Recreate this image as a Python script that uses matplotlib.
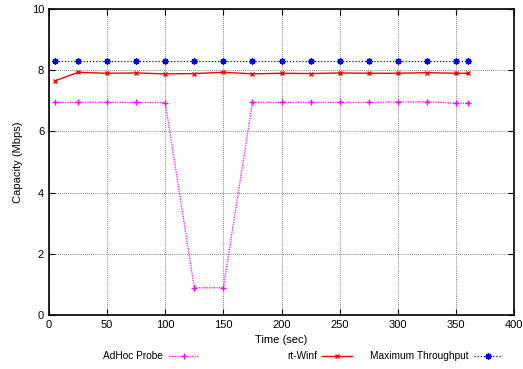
import numpy as np
import matplotlib
matplotlib.use('Agg')
import matplotlib.pyplot as plt
from matplotlib.lines import Line2D

plt.rcParams['font.family'] = ['Liberation Sans', 'DejaVu Sans']

tiempo = np.array([5, 25, 50, 75, 100, 125, 150, 175, 200, 225, 250, 275, 300, 325, 350, 360])
adhoc = np.array([6.95, 6.95, 6.95, 6.95, 6.94, 0.89, 0.89, 6.95, 6.95, 6.95, 6.95, 6.95, 6.96, 6.97, 6.92, 6.92])
rtwinf = np.array([7.65, 7.93, 7.90, 7.91, 7.88, 7.89, 7.93, 7.88, 7.90, 7.89, 7.91, 7.90, 7.90, 7.92, 7.90, 7.90])
maximo = np.array([8.3] * 16)

W, H = 523, 369
fig = plt.figure(figsize=(W / 100, H / 100), dpi=100)
ax = fig.add_axes([49 / W, 54 / H, 465 / W, 306 / H])

estilos = [
    dict(color='#ff00ff', linestyle=(0, (1, 1)), linewidth=0.9, marker='+', markersize=4.5, markeredgewidth=1.0),
    dict(color='#ff0000', linestyle='-', linewidth=1.0, marker='x', markersize=3.5, markeredgewidth=1.0),
    dict(color='#0000ff', linestyle=(0, (1, 1.5)), linewidth=0.9, marker=(8, 2, 0), markersize=4.5, markeredgewidth=1.0),
]
series = [adhoc, rtwinf, maximo]
nombres = ['AdHoc Probe', 'rt-Winf', 'Maximum Throughput']

for y, st in zip(series, estilos):
    ax.plot(tiempo, y, **st)

ax.set_xlim(0, 400)
ax.set_ylim(0, 10)
ax.set_xticks(np.arange(0, 401, 50))
ax.set_yticks(np.arange(0, 11, 2))
ax.grid(True, color='#555555', linestyle=(0, (1, 1.5)), linewidth=0.6)
ax.tick_params(direction='in', labelsize=8, length=4, top=True, right=True, labeltop=False, labelright=False)
for s in ax.spines.values():
    s.set_linewidth(1.2)
ax.set_xlabel('Time (sec)', fontsize=8, labelpad=4)
ax.set_ylabel('Capacity (Mbps)', fontsize=8, labelpad=6)

# leyenda estilo gnuplot: texto a la derecha alineado, muestra despues
fin_texto = [163, 317, 469]
muestra = [(169, 198), (322, 352), (474, 502)]
yl = 13 / H
for nombre, st, xt, (a, b) in zip(nombres, estilos, fin_texto, muestra):
    fig.text(xt / W, yl, nombre, ha='right', va='center', fontsize=7.3)
    st2 = dict(st)
    st2.pop('marker')
    fig.add_artist(Line2D([a / W, b / W], [yl, yl], transform=fig.transFigure, **st2))
    fig.add_artist(Line2D([(a + b) / 2 / W], [yl], transform=fig.transFigure, color=st['color'],
                          linestyle='none', marker=st['marker'], markersize=st['markersize'],
                          markeredgewidth=st['markeredgewidth']))

fig.savefig('out.png', dpi=100)
